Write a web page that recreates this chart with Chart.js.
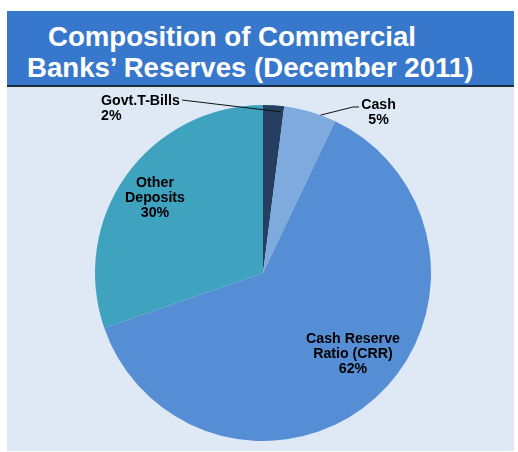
<!DOCTYPE html>
<html>
<head>
<meta charset="utf-8">
<title>Composition of Commercial Banks' Reserves</title>
<script src="https://cdn.jsdelivr.net/npm/chart.js@4"></script>
<style>
body{margin:0;background:#fff;width:518px;height:452px;position:relative;overflow:hidden;font-family:"Liberation Sans",Arial,sans-serif}
#header{position:absolute;left:7px;top:11px;width:507px;height:74px;background:#3878cc;border-bottom:2px solid #1d2b3c}
#header div{position:absolute;color:#fff;font-weight:bold;font-size:27.6px;line-height:31px;white-space:nowrap}
#panel{position:absolute;left:7px;top:87px;width:507px;height:364px;background:#dfe9f5}
</style>
</head>
<body>
<div id="header">
  <div style="left:41px;top:10px">Composition of Commercial</div>
  <div style="left:20px;top:41px">Banks’ Reserves (December 2011)</div>
</div>
<div id="panel"><canvas id="pie" width="507" height="364"></canvas></div>
<script>
const categories = [['Govt.T-Bills'], ['Cash'], ['Cash Reserve', 'Ratio (CRR)'], ['Other', 'Deposits']];
const shares = [2, 5, 62, 30];
const sliceColors = ['#243f60', '#7eaade', '#558ed5', '#3fa3bf'];

// label placement in px from the pie centre; "lead" is the leader line
// drawn back into a thin slice, "at" = [fraction of slice angle, fraction of radius]
const labelSpots = [
  {dx: -162, dy: -168, align: 'left', lead: [[-81, -173]], at: [0.88, 0.965]},
  {dx: 115.5, dy: -164, align: 'center', lead: [[96, -166], [90, -166]], at: [0.7, 1]},
  {dx: 90, dy: 70, align: 'center'},
  {dx: -108, dy: -86, align: 'center'}
];

const sliceLabels = {
  id: 'sliceLabels',
  afterDatasetsDraw(chart) {
    const ctx = chart.ctx;
    const meta = chart.getDatasetMeta(0);
    ctx.save();
    ctx.font = 'bold 14.2px "Liberation Sans", Arial, sans-serif';
    ctx.fillStyle = '#000';
    ctx.strokeStyle = '#111';
    ctx.lineWidth = 1;
    meta.data.forEach((arc, i) => {
      const spot = labelSpots[i];
      const {x, y, outerRadius, startAngle, endAngle} =
        arc.getProps(['x', 'y', 'outerRadius', 'startAngle', 'endAngle'], true);
      if (spot.lead) {
        const a = startAngle + (endAngle - startAngle) * spot.at[0];
        const r = outerRadius * spot.at[1];
        ctx.beginPath();
        spot.lead.forEach((p, k) => k ? ctx.lineTo(x + p[0], y + p[1]) : ctx.moveTo(x + p[0], y + p[1]));
        ctx.lineTo(x + Math.cos(a) * r, y + Math.sin(a) * r);
        ctx.stroke();
      }
      const lines = categories[i].concat(shares[i] + '%');
      ctx.textAlign = spot.align;
      ctx.textBaseline = 'alphabetic';
      lines.forEach((t, k) => ctx.fillText(t, x + spot.dx, y + spot.dy + k * 15));
    });
    ctx.restore();
  }
};

new Chart(document.getElementById('pie'), {
  type: 'pie',
  data: {
    labels: categories.map(c => c.join(' ')),
    datasets: [{
      data: shares,
      backgroundColor: sliceColors,
      borderWidth: 0,
      hoverOffset: 0
    }]
  },
  options: {
    responsive: false,
    devicePixelRatio: 1,
    animation: false,
    events: [],
    layout: {padding: {left: 5, right: 0, top: 18, bottom: 10}},
    plugins: {
      legend: {display: false},
      tooltip: {enabled: false}
    }
  },
  plugins: [sliceLabels]
});
</script>
</body>
</html>
